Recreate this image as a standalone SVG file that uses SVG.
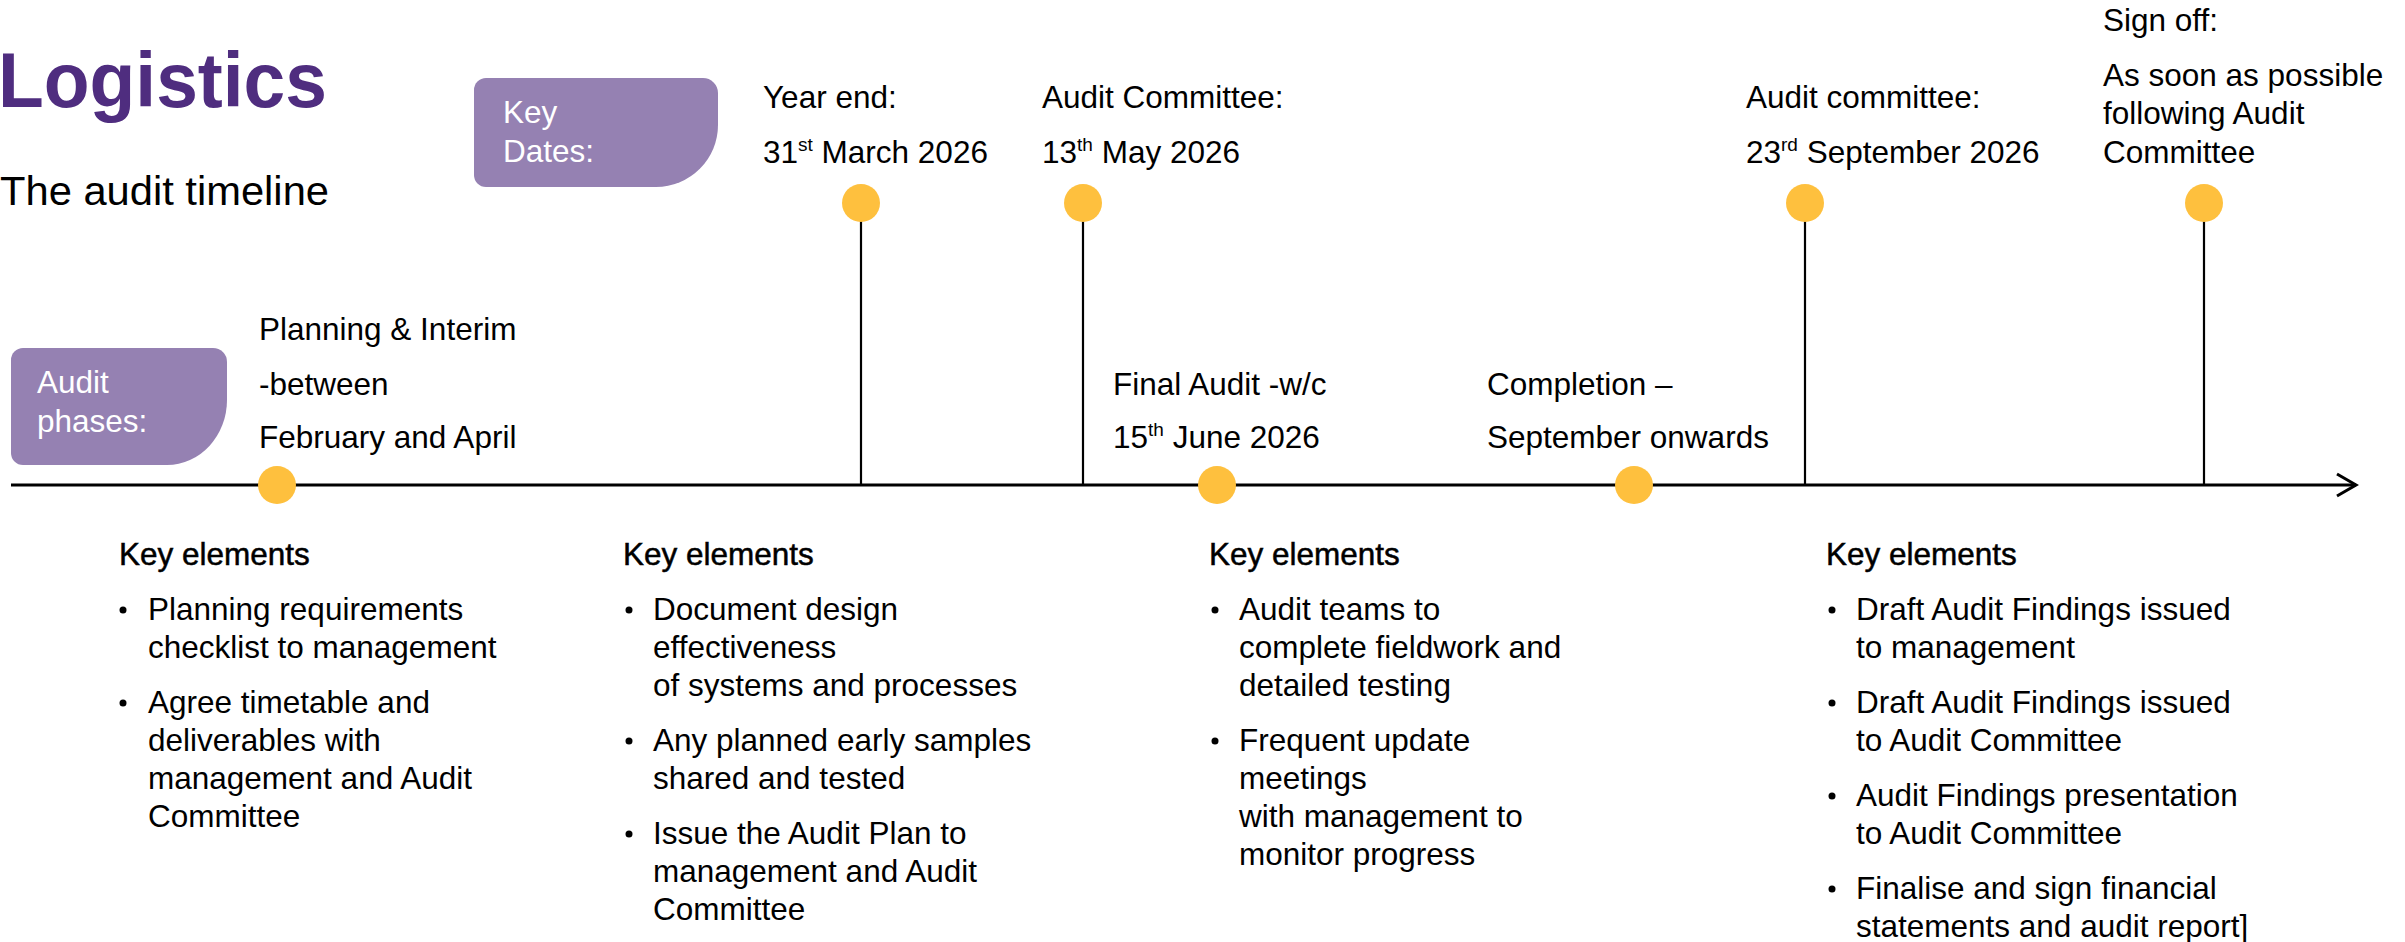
<svg xmlns="http://www.w3.org/2000/svg" width="2405" height="942" viewBox="0 0 2405 942">
  <style>
    text { font-family: "Liberation Sans", Arial, sans-serif; fill: #000; }
    .body { font-size: 31.5px; }
    .head { font-size: 31.5px; stroke: #000; stroke-width: 0.5px; }
    .sup { font-size: 19px; }
    .title { font-size: 77px; font-weight: bold; fill: #4F2D7F; }
    .subtitle { font-size: 40px; }
    .tag { fill: #9581B2; }
    .tagtext { font-size: 31.5px; fill: #fff; }
    .dot { fill: #FEC03E; }
    .axis { stroke: #000; stroke-width: 3; fill: none; }
    .stem { stroke: #000; stroke-width: 2.2; fill: none; }
    .bullet { fill: #000; }
  </style>
  <defs>
    <marker id="arrow" markerUnits="userSpaceOnUse" markerWidth="26" markerHeight="28" refX="22" refY="14" orient="auto">
      <path d="M3,3 L22,14 L3,25" stroke="#000" stroke-width="3" fill="none"/>
    </marker>
  </defs>

  <rect width="2405" height="942" fill="#fff"/>

  <!-- heading -->
  <g id="heading">
    <text class="title" x="-2" y="107" textLength="329" lengthAdjust="spacingAndGlyphs">Logistics</text>
    <text class="subtitle" x="0" y="205" textLength="329" lengthAdjust="spacingAndGlyphs">The audit timeline</text>
  </g>

  <!-- connectors: timeline axis and milestone stems -->
  <g id="connectors">
    <line class="axis" x1="11" y1="485" x2="2356" y2="485" marker-end="url(#arrow)"/>
    <line class="stem" x1="861" y1="203" x2="861" y2="485"/>
    <line class="stem" x1="1083" y1="203" x2="1083" y2="485"/>
    <line class="stem" x1="1805" y1="203" x2="1805" y2="485"/>
    <line class="stem" x1="2204" y1="203" x2="2204" y2="485"/>
  </g>

  <!-- row labels -->
  <g id="key-dates-label">
    <path class="tag" d="M486,78 H703 A15,15 0 0 1 718,93 V125 A62,62 0 0 1 656,187 H486 A12,12 0 0 1 474,175 V90 A12,12 0 0 1 486,78 Z"/>
    <text class="tagtext" x="503" y="123">Key</text>
    <text class="tagtext" x="503" y="162">Dates:</text>
  </g>
  <g id="audit-phases-label">
    <path class="tag" d="M23,348 H213 A14,14 0 0 1 227,362 V400 A60,65 0 0 1 167,465 H23 A12,12 0 0 1 11,453 V360 A12,12 0 0 1 23,348 Z"/>
    <text class="tagtext" x="37" y="393">Audit</text>
    <text class="tagtext" x="37" y="432">phases:</text>
  </g>

  <!-- key dates -->
  <g id="date-year-end">
    <text class="body" x="763" y="108">Year end:</text>
    <text class="body" x="763" y="163">31<tspan class="sup" dy="-12">st</tspan><tspan dy="12"> March 2026</tspan></text>
    <circle class="dot" cx="861" cy="203" r="19"/>
  </g>
  <g id="date-audit-committee-may">
    <text class="body" x="1042" y="108">Audit Committee:</text>
    <text class="body" x="1042" y="163">13<tspan class="sup" dy="-12">th</tspan><tspan dy="12"> May 2026</tspan></text>
    <circle class="dot" cx="1083" cy="203" r="19"/>
  </g>
  <g id="date-audit-committee-sep">
    <text class="body" x="1746" y="108">Audit committee:</text>
    <text class="body" x="1746" y="163">23<tspan class="sup" dy="-12">rd</tspan><tspan dy="12"> September 2026</tspan></text>
    <circle class="dot" cx="1805" cy="203" r="19"/>
  </g>
  <g id="date-sign-off">
    <text class="body" x="2103" y="31">Sign off:</text>
    <text class="body" x="2103" y="86">As soon as possible</text>
    <text class="body" x="2103" y="124">following Audit</text>
    <text class="body" x="2103" y="163">Committee</text>
    <circle class="dot" cx="2204" cy="203" r="19"/>
  </g>

  <!-- audit phases -->
  <g id="phase-planning">
    <text class="body" x="259" y="340">Planning &amp; Interim</text>
    <text class="body" x="259" y="395">-between</text>
    <text class="body" x="259" y="448">February and April</text>
    <circle class="dot" cx="277" cy="485" r="19"/>
  </g>
  <g id="phase-final">
    <text class="body" x="1113" y="395">Final Audit -w/c</text>
    <text class="body" x="1113" y="448">15<tspan class="sup" dy="-12">th</tspan><tspan dy="12"> June 2026</tspan></text>
    <circle class="dot" cx="1217" cy="485" r="19"/>
  </g>
  <g id="phase-completion">
    <text class="body" x="1487" y="395">Completion –</text>
    <text class="body" x="1487" y="448">September onwards</text>
    <circle class="dot" cx="1634" cy="485" r="19"/>
  </g>

  <!-- key elements per phase -->
  <g id="elements-planning">
    <text class="head" x="119" y="565">Key elements</text>
    <circle class="bullet" cx="123" cy="610" r="3.5"/>
    <text class="body" x="148" y="620">Planning requirements</text>
    <text class="body" x="148" y="658">checklist to management</text>
    <circle class="bullet" cx="123" cy="703" r="3.5"/>
    <text class="body" x="148" y="713">Agree timetable and</text>
    <text class="body" x="148" y="751">deliverables with</text>
    <text class="body" x="148" y="789">management and Audit</text>
    <text class="body" x="148" y="827">Committee</text>
  </g>
  <g id="elements-interim">
    <text class="head" x="623" y="565">Key elements</text>
    <circle class="bullet" cx="629" cy="610" r="3.5"/>
    <text class="body" x="653" y="620">Document design</text>
    <text class="body" x="653" y="658">effectiveness</text>
    <text class="body" x="653" y="696">of systems and processes</text>
    <circle class="bullet" cx="629" cy="741" r="3.5"/>
    <text class="body" x="653" y="751">Any planned early samples</text>
    <text class="body" x="653" y="789">shared and tested</text>
    <circle class="bullet" cx="629" cy="834" r="3.5"/>
    <text class="body" x="653" y="844">Issue the Audit Plan to</text>
    <text class="body" x="653" y="882">management and Audit</text>
    <text class="body" x="653" y="920">Committee</text>
  </g>
  <g id="elements-final">
    <text class="head" x="1209" y="565">Key elements</text>
    <circle class="bullet" cx="1215" cy="610" r="3.5"/>
    <text class="body" x="1239" y="620">Audit teams to</text>
    <text class="body" x="1239" y="658">complete fieldwork and</text>
    <text class="body" x="1239" y="696">detailed testing</text>
    <circle class="bullet" cx="1215" cy="741" r="3.5"/>
    <text class="body" x="1239" y="751">Frequent update</text>
    <text class="body" x="1239" y="789">meetings</text>
    <text class="body" x="1239" y="827">with management to</text>
    <text class="body" x="1239" y="865">monitor progress</text>
  </g>
  <g id="elements-completion">
    <text class="head" x="1826" y="565">Key elements</text>
    <circle class="bullet" cx="1832" cy="610" r="3.5"/>
    <text class="body" x="1856" y="620">Draft Audit Findings issued</text>
    <text class="body" x="1856" y="658">to management</text>
    <circle class="bullet" cx="1832" cy="703" r="3.5"/>
    <text class="body" x="1856" y="713">Draft Audit Findings issued</text>
    <text class="body" x="1856" y="751">to Audit Committee</text>
    <circle class="bullet" cx="1832" cy="796" r="3.5"/>
    <text class="body" x="1856" y="806">Audit Findings presentation</text>
    <text class="body" x="1856" y="844">to Audit Committee</text>
    <circle class="bullet" cx="1832" cy="889" r="3.5"/>
    <text class="body" x="1856" y="899">Finalise and sign financial</text>
    <text class="body" x="1856" y="937">statements and audit report]</text>
  </g>
</svg>
